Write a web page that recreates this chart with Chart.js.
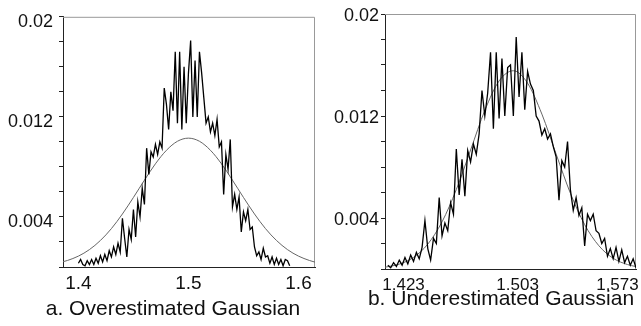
<!DOCTYPE html>
<html>
<head>
<meta charset="utf-8">
<script src="https://cdn.jsdelivr.net/npm/chart.js@4/dist/chart.umd.min.js"></script>
<style>
  body { margin: 0; background: #fff; width: 641px; height: 326px; position: relative; overflow: hidden; }
  canvas { position: absolute; top: 0; }
  #chartA { left: 0; }
  #chartB { left: 320px; }
  .caption { position: absolute; font-family: "Liberation Sans", Arial, sans-serif; font-size: 21px; color: #111; white-space: nowrap; transform: translateX(-50%); }
</style>
</head>
<body>
<canvas id="chartA" width="320" height="300"></canvas>
<canvas id="chartB" width="321" height="300"></canvas>
<div class="caption" style="left:173px; top:296px;">a. Overestimated Gaussian</div>
<div class="caption" style="left:501px; top:286px;">b. Underestimated Gaussian</div>
<script>
// panel a: measured histogram
const histAx = [1.400, 1.402, 1.404, 1.406, 1.408, 1.410, 1.412, 1.414, 1.416, 1.418,
  1.420, 1.422, 1.424, 1.426, 1.428, 1.430, 1.432, 1.434, 1.436, 1.438,
  1.440, 1.442, 1.444, 1.446, 1.448, 1.450, 1.452, 1.454, 1.456, 1.458,
  1.460, 1.462, 1.464, 1.466, 1.468, 1.470, 1.472, 1.474, 1.476, 1.478,
  1.480, 1.482, 1.484, 1.486, 1.488, 1.490, 1.492, 1.494, 1.496, 1.498,
  1.500, 1.502, 1.504, 1.506, 1.508, 1.510, 1.512, 1.514, 1.516, 1.518,
  1.520, 1.522, 1.524, 1.526, 1.528, 1.530, 1.532, 1.534, 1.536, 1.538,
  1.540, 1.542, 1.544, 1.546, 1.548, 1.550, 1.552, 1.554, 1.556, 1.558,
  1.560, 1.562, 1.564, 1.566, 1.568, 1.570, 1.572, 1.574, 1.576, 1.578,
  1.580, 1.582, 1.584, 1.586, 1.588, 1.590, 1.592];
const histAy = [0.0003, 0.0006, 0.0002, 0.0001, 0.0005, 0.0002, 0.0006, 0.0002, 0.0007, 0.0003,
  0.0009, 0.0004, 0.0010, 0.0005, 0.0013, 0.0008, 0.0016, 0.0010, 0.0019, 0.0012,
  0.0039, 0.0023, 0.0008, 0.0030, 0.0022, 0.0046, 0.0024, 0.0052, 0.0040, 0.0063,
  0.0050, 0.0095, 0.0074, 0.0092, 0.0088, 0.0098, 0.0090, 0.0100, 0.0095, 0.0143,
  0.0130, 0.0110, 0.0140, 0.0125, 0.0172, 0.0115, 0.0172, 0.0110, 0.0160, 0.0115,
  0.0155, 0.0181, 0.0120, 0.0165, 0.0120, 0.0172, 0.0155, 0.0135, 0.0115, 0.0120,
  0.0108, 0.0115, 0.0105, 0.0118, 0.0096, 0.0100, 0.0058, 0.0090, 0.0078, 0.0102,
  0.0048, 0.0058, 0.0046, 0.0056, 0.0028, 0.0044, 0.0037, 0.0046, 0.0030, 0.0032,
  0.0016, 0.0009, 0.0012, 0.0006, 0.0015, 0.0008, 0.0009, 0.0003, 0.0008, 0.0002,
  0.0007, 0.0002, 0.0006, 0.0001, 0.0006, 0.0005, 0.0001];
// panel a: fitted gaussian (too wide)
const fitAx = [1.386, 1.39, 1.40, 1.41, 1.42, 1.43, 1.44, 1.45, 1.46, 1.47, 1.48, 1.49, 1.50,
  1.51, 1.52, 1.53, 1.54, 1.55, 1.56, 1.57, 1.58, 1.59, 1.60, 1.61, 1.615];
const fitAy = [0.00042, 0.00052, 0.00087, 0.00139, 0.00212, 0.00307, 0.00424, 0.00556, 0.00694, 0.00825, 0.00933, 0.01005, 0.0103,
  0.01005, 0.00933, 0.00825, 0.00694, 0.00556, 0.00424, 0.00307, 0.00212, 0.00139, 0.00087, 0.00052, 0.00039];

// panel b: measured histogram
const histBx = [1.412, 1.414, 1.416, 1.418, 1.420, 1.422, 1.424, 1.426, 1.428, 1.430,
  1.432, 1.434, 1.436, 1.438, 1.440, 1.442, 1.444, 1.446, 1.448, 1.450,
  1.452, 1.454, 1.456, 1.458, 1.460, 1.462, 1.464, 1.466, 1.468, 1.470,
  1.472, 1.474, 1.476, 1.478, 1.480, 1.482, 1.484, 1.486, 1.488, 1.490,
  1.492, 1.494, 1.496, 1.498, 1.500, 1.502, 1.504, 1.506, 1.508, 1.510,
  1.512, 1.514, 1.516, 1.518, 1.520, 1.522, 1.524, 1.526, 1.528, 1.530,
  1.532, 1.534, 1.536, 1.538, 1.540, 1.542, 1.544, 1.546, 1.548, 1.550,
  1.552, 1.554, 1.556, 1.558, 1.560, 1.562, 1.564, 1.566, 1.568, 1.570,
  1.572, 1.574, 1.576, 1.578, 1.580, 1.582, 1.584, 1.586];
const histBy = [0.0003, 0.0001, 0.0005, 0.0002, 0.0007, 0.0003, 0.0009, 0.0004, 0.0011, 0.0006,
  0.0013, 0.0008, 0.0017, 0.0038, 0.0016, 0.0007, 0.0024, 0.0020, 0.0056, 0.0026,
  0.0036, 0.0030, 0.0052, 0.0043, 0.0094, 0.0058, 0.0086, 0.0057, 0.0093, 0.0084,
  0.0098, 0.0090, 0.0106, 0.0140, 0.0120, 0.0138, 0.0170, 0.0110, 0.0170, 0.0118,
  0.0165, 0.0120, 0.0158, 0.0160, 0.0120, 0.0182, 0.0135, 0.0170, 0.0125, 0.0155,
  0.0145, 0.0140, 0.0120, 0.0116, 0.0105, 0.0110, 0.0102, 0.0106, 0.0096, 0.0088,
  0.0054, 0.0085, 0.0080, 0.0100, 0.0062, 0.0046, 0.0056, 0.0042, 0.0048, 0.0018,
  0.0043, 0.0038, 0.0043, 0.0030, 0.0028, 0.0020, 0.0024, 0.0010, 0.0016, 0.0008,
  0.0017, 0.0006, 0.0015, 0.0005, 0.0010, 0.0003, 0.0008, 0.0001];
// panel b: fitted gaussian (too narrow)
const fitBx = [1.41, 1.42, 1.43, 1.44, 1.45, 1.46, 1.47, 1.48, 1.49, 1.50,
  1.51, 1.52, 1.53, 1.54, 1.55, 1.56, 1.57, 1.58, 1.586];
const fitBy = [0.00014, 0.00038, 0.00091, 0.00195, 0.0037, 0.00623, 0.00933, 0.01244, 0.01475, 0.01555,
  0.01457, 0.01215, 0.00901, 0.00594, 0.00348, 0.00182, 0.00084, 0.00035, 0.00019];

const xTicksA = [1.4, 1.5, 1.6];
const xTicksB = [1.423, 1.503, 1.573];
const yLabels = [0.004, 0.012, 0.02];

const font = "'Liberation Sans', Arial, sans-serif";

function pts(xs, ys) {
  return xs.map((x, i) => ({ x: x, y: ys[i] }));
}

// light grey frame on top and right of the plot
const frame = {
  id: "frame",
  beforeDatasetsDraw(chart) {
    const { ctx, chartArea: a } = chart;
    ctx.save();
    ctx.strokeStyle = "#999";
    ctx.lineWidth = 1;
    ctx.beginPath();
    ctx.moveTo(a.left, a.top + 0.5);
    ctx.lineTo(a.right - 0.5, a.top + 0.5);
    ctx.lineTo(a.right - 0.5, a.bottom);
    ctx.stroke();
    ctx.restore();
  },
};

function makeChart(id, hx, hy, fx, fy, xmin, xmax, xTicks, opt) {
  return new Chart(document.getElementById(id), {
    type: "line",
    data: {
      datasets: [
        {
          data: pts(hx, hy),
          borderColor: "#000",
          borderWidth: 1.3,
          pointRadius: 0,
          tension: 0,
        },
        {
          data: pts(fx, fy),
          borderColor: "#666",
          borderWidth: 1,
          pointRadius: 0,
          cubicInterpolationMode: "monotone",
        },
      ],
    },
    options: {
      responsive: false,
      animation: false,
      devicePixelRatio: 1,
      layout: { padding: { top: opt.top, right: opt.right, left: 0, bottom: 0 } },
      plugins: { legend: { display: false }, tooltip: { enabled: false } },
      scales: {
        x: {
          type: "linear",
          min: xmin,
          max: xmax,
          afterBuildTicks: (s) => { s.ticks = xTicks.map((v) => ({ value: v })); },
          afterFit: (s) => { s.height = opt.xh; },
          grid: { display: false },
          border: { display: true, color: "#222", width: 1 },
          ticks: {
            color: "#111",
            padding: opt.xpad,
            maxRotation: 0,
            autoSkip: false,
            font: { family: font, size: opt.xfs },
            callback: (v) => String(v),
          },
        },
        y: {
          min: 0,
          max: 0.02,
          afterFit: (s) => { s.width = opt.yw; },
          grid: { drawOnChartArea: false, drawTicks: true, tickLength: 4, color: "#222" },
          border: { display: true, color: "#222", width: 1 },
          ticks: {
            stepSize: 0.002,
            color: "#111",
            padding: opt.ypad,
            labelOffset: opt.yoff,
            font: { family: font, size: 18 },
            callback: (v) => {
              const m = yLabels.find((l) => Math.abs(l - v) < 1e-9);
              return m === undefined ? "" : String(m);
            },
          },
        },
      },
    },
    plugins: [frame],
  });
}

makeChart("chartA", histAx, histAy, fitAx, fitAy, 1.386, 1.615, xTicksA,
  { top: 13, right: 5, xh: 33, yw: 63, ypad: 6, yoff: 5, xfs: 19, xpad: -3 });
makeChart("chartB", histBx, histBy, fitBx, fitBy, 1.41, 1.586, xTicksB,
  { top: 14, right: 5, xh: 31, yw: 65, ypad: 2, yoff: 2, xfs: 17, xpad: -2 });
</script>
</body>
</html>
